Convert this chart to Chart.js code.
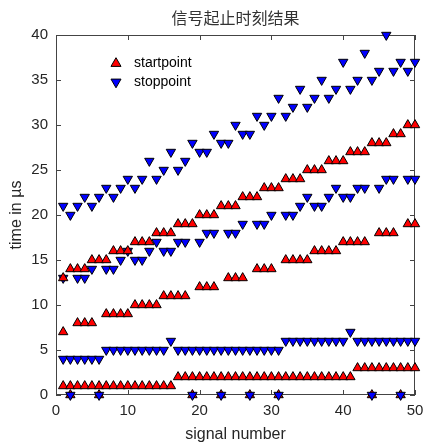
<!DOCTYPE html>
<html>
<head>
<meta charset="utf-8">
<script src="https://cdn.jsdelivr.net/npm/chart.js@4/dist/chart.umd.min.js"></script>
<style>
  html, body { margin: 0; padding: 0; background: #fff; }
</style>
</head>
<body>
<canvas id="chart" width="424" height="444"></canvas>
<script>
// 信号编号
const signals = [1,2,3,4,5,6,7,8,9,10, 11,12,13,14,15,16,17,18,19,20,
                 21,22,23,24,25,26,27,28,29,30, 31,32,33,34,35,36,37,38,39,40,
                 41,42,43,44,45,46,47,48,49,50];

// 第1个脉冲
const start1 = [1,1,1,1,1,1,1,1,1,1, 1,1,1,1,1,1,2,2,2,2, 2,2,2,2,2,2,2,2,2,2,
                2,2,2,2,2,2,2,2,2,2, 2,3,3,3,3,3,3,3,3,3];
const stop1  = [4,4,4,4,4,4,5,5,5,5, 5,5,5,5,5,6,5,5,5,5, 5,5,5,5,5,5,5,5,5,5,
                5,6,6,6,6,6,6,6,6,6, 7,6,6,6,6,6,6,6,6,6];

// 第2个脉冲（0 表示未检测到）
const start2 = [7,0,8,8,8,0,9,9,9,9, 10,10,10,10,11,11,11,11,0,12, 12,12,0,13,13,13,0,14,14,14,
                0,15,15,15,15,16,16,16,16,17, 17,17,17,0,18,18,18,0,19,19];
const stop2  = [13,0,13,13,14,0,14,14,15,16, 15,15,16,17,16,16,17,17,0,17, 18,18,0,18,18,19,0,19,19,20,
                0,20,20,21,22,21,21,22,23,22, 22,23,23,0,23,24,24,0,24,24];

// 第3个脉冲
const start3 = [13,14,14,14,15,15,15,16,16,16, 17,17,17,18,18,18,19,19,19,20, 20,20,21,21,21,22,22,22,23,23,
                23,24,24,24,25,25,25,26,26,26, 27,27,27,28,28,28,29,29,30,30];
const stop3  = [21,20,21,22,21,22,23,22,23,24, 23,24,26,24,25,27,25,26,28,27, 27,29,28,28,30,29,29,31,30,31,
                33,31,32,34,32,33,35,33,34,37, 34,35,38,35,36,40,36,37,36,37];

const xTicks = [0, 10, 20, 30, 40, 50];
const yTicks = [0, 5, 10, 15, 20, 25, 30, 35, 40];

// 组装散点
const startPts = [];
const stopPts = [];
const zeroStopPts = [];
signals.forEach((s, i) => {
  startPts.push({x: s, y: start1[i]}, {x: s, y: start2[i]}, {x: s, y: start3[i]});
  stopPts.push({x: s, y: stop1[i]}, {x: s, y: stop3[i]});
  if (stop2[i] === 0) zeroStopPts.push({x: s, y: 0});
  else stopPts.push({x: s, y: stop2[i]});
});

const RED = '#ff0000';
const BLUE = '#0000ff';
const R = 5.4;
const FONT = '"Liberation Sans", Arial, sans-serif';

function tri(ctx, x, y, r, down) {
  const d = down ? -1 : 1;
  ctx.beginPath();
  ctx.moveTo(x, y - d * r);
  ctx.lineTo(x + 0.866 * r, y + d * 0.5 * r);
  ctx.lineTo(x - 0.866 * r, y + d * 0.5 * r);
  ctx.closePath();
  ctx.fill();
  ctx.stroke();
}

// 坐标框、内向刻度、图例
const framePlugin = {
  id: 'frame',
  beforeDatasetsDraw(chart) {
    const {ctx, chartArea: a, scales: {x, y}} = chart;
    ctx.save();
    ctx.strokeStyle = '#444';
    ctx.lineWidth = 1;
    ctx.strokeRect(a.left + 0.5, a.top + 0.5, a.right - a.left - 1, a.bottom - a.top - 1);
    ctx.beginPath();
    xTicks.forEach(v => {
      const px = Math.round(x.getPixelForValue(v)) + 0.5;
      ctx.moveTo(px, a.bottom); ctx.lineTo(px, a.bottom - 5);
      ctx.moveTo(px, a.top); ctx.lineTo(px, a.top + 5);
    });
    yTicks.forEach(v => {
      const py = Math.round(y.getPixelForValue(v)) + 0.5;
      ctx.moveTo(a.left, py); ctx.lineTo(a.left + 5, py);
      ctx.moveTo(a.right, py); ctx.lineTo(a.right - 5, py);
    });
    ctx.stroke();
    ctx.restore();
  },
  afterDraw(chart) {
    const {ctx} = chart;
    ctx.save();
    ctx.lineWidth = 1;
    ctx.strokeStyle = '#000';
    ctx.fillStyle = RED;
    tri(ctx, 116, 63.5, R + 0.4, false);
    ctx.fillStyle = BLUE;
    tri(ctx, 116, 82, R + 0.4, true);
    ctx.fillStyle = '#000';
    ctx.font = '14px ' + FONT;
    ctx.textBaseline = 'middle';
    ctx.fillText('startpoint', 134, 63);
    ctx.fillText('stoppoint', 134, 82.5);
    ctx.restore();
  }
};

const common = {
  pointStyle: 'triangle',
  pointRadius: R,
  pointHoverRadius: R,
  borderColor: '#000',
  borderWidth: 1,
  showLine: false,
  clip: false
};

new Chart(document.getElementById('chart'), {
  type: 'scatter',
  data: {
    datasets: [
      Object.assign({label: 'startpoint', data: startPts, backgroundColor: RED, pointRotation: 0, order: 0}, common),
      Object.assign({label: 'stoppoint', data: stopPts, backgroundColor: BLUE, pointRotation: 180, order: 1}, common),
      Object.assign({label: 'zero', data: zeroStopPts, backgroundColor: BLUE, pointRotation: 180, order: -1}, common)
    ]
  },
  options: {
    responsive: false,
    animation: false,
    devicePixelRatio: 1,
    layout: { padding: { top: 0, right: 9, bottom: 0, left: 0 } },
    plugins: {
      legend: { display: false },
      tooltip: { enabled: false },
      title: {
        display: true,
        text: '信号起止时刻结果',
        fullSize: false,
        color: '#333',
        font: { family: '"Noto Sans CJK SC"', size: 16, weight: 'normal', lineHeight: 1.25 },
        padding: { top: 8, bottom: 7 }
      }
    },
    scales: {
      x: {
        type: 'linear',
        min: 0, max: 50,
        grid: { display: false, drawTicks: false, tickLength: 0 },
        border: { display: false },
        ticks: { stepSize: 10, color: '#262626', padding: 7, maxRotation: 0, font: { family: FONT, size: 15 } },
        title: { display: true, text: 'signal number', color: '#262626', padding: { top: 0, bottom: 0 }, font: { family: FONT, size: 16 } },
        afterFit(scale) {
          scale.height = 49;
          scale.paddingLeft = 0;
          scale.paddingRight = 0;
        }
      },
      y: {
        type: 'linear',
        min: 0, max: 40,
        grid: { display: false, drawTicks: false, tickLength: 0 },
        border: { display: false },
        ticks: { stepSize: 5, color: '#262626', padding: 8, font: { family: FONT, size: 15 } },
        title: { display: true, text: 'time in µs', color: '#262626', padding: { top: 7, bottom: 0 }, font: { family: FONT, size: 16 } },
        afterFit(scale) {
          scale.width = 56;
          scale.paddingTop = 0;
          scale.paddingBottom = 0;
        }
      }
    }
  },
  plugins: [framePlugin]
});
</script>
</body>
</html>
